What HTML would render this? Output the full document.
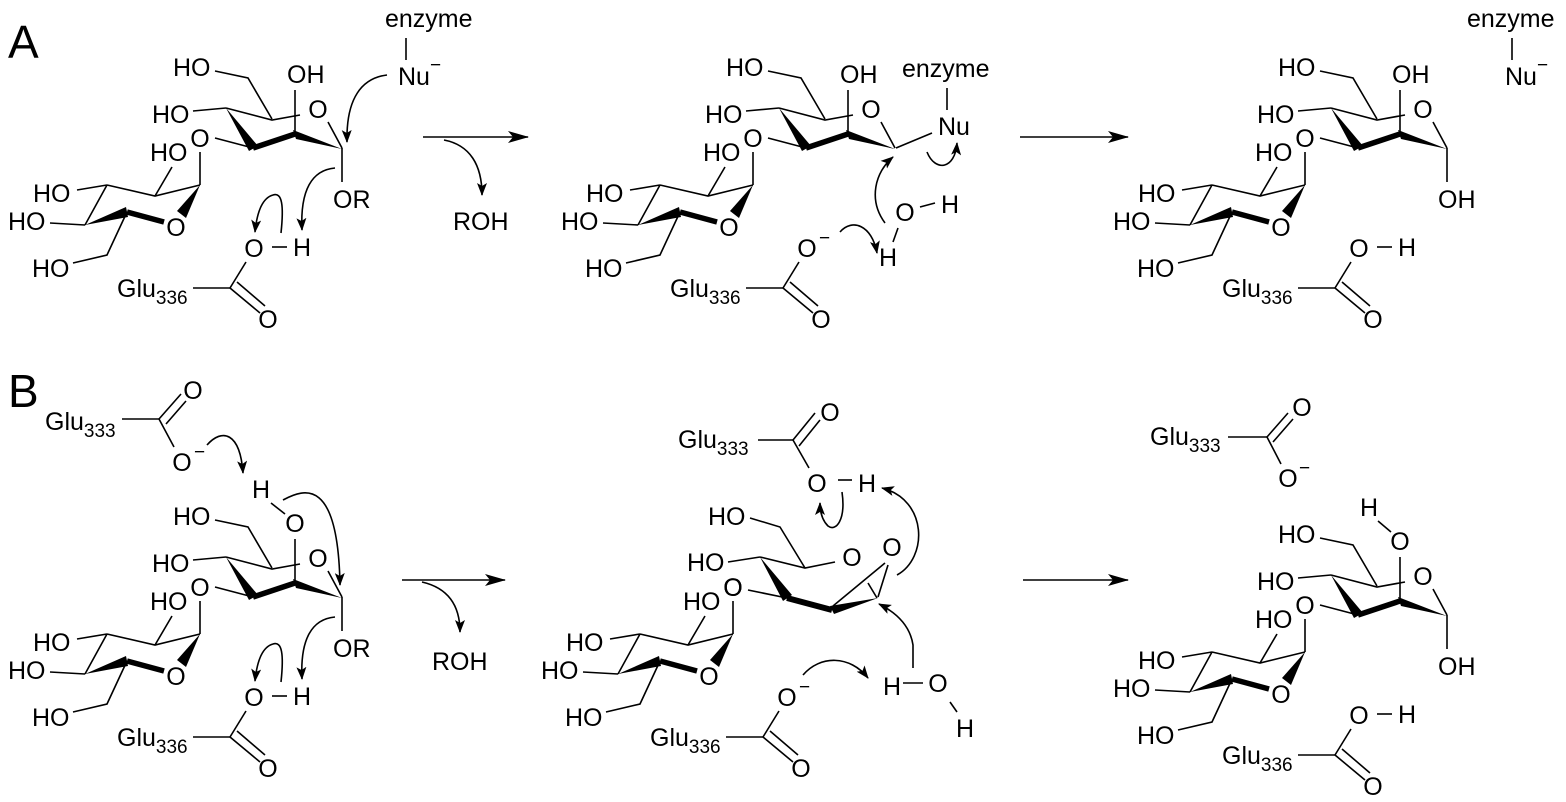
<!DOCTYPE html>
<html><head><meta charset="utf-8"><style>
html,body{margin:0;padding:0;background:#fff;}
svg{display:block;}
text{font-family:"Liberation Sans",Arial,sans-serif;font-size:25px;fill:#000;}
.m{text-anchor:middle;}
.s{font-size:19px;}
</style></head><body>
<svg width="1566" height="802" viewBox="0 0 1566 802" xmlns="http://www.w3.org/2000/svg">
<defs>
<marker id="ah" markerUnits="userSpaceOnUse" markerWidth="14" markerHeight="10" refX="12" refY="5" orient="auto">
<path d="M0,0 L13,5 L0,10 L3,5 Z" fill="#000"/></marker>
<marker id="bh" markerUnits="userSpaceOnUse" markerWidth="22" markerHeight="12" refX="20" refY="6" orient="auto">
<path d="M0,0 L21,6 L0,12 L5,6 Z" fill="#000"/></marker>
<g id="upper" stroke="#000" stroke-width="1.6" fill="none">
<path d="M215,71 L248,78 L272,119"/>
<path d="M193,111 L226,108"/>
<path d="M226,108 L272,120 L300,115"/>
<path d="M328,122 L342,148"/>
<path d="M295,90 L295,134"/>
<path d="M215,138 L253,148"/>
<polygon points="226,108 249,151 258,146" fill="#000" stroke="none"/>
<path d="M253,148 L295,134" stroke-width="5.5"/>
<polygon points="293,130 296,139 342,149" fill="#000" stroke="none"/>
</g>
<g id="lower" stroke="#000" stroke-width="1.6" fill="none">
<path d="M200,152 L200,185"/>
<path d="M200,185 L155,196 L107,185"/>
<path d="M155,196 L172,167"/>
<path d="M77,190 L107,185"/>
<path d="M107,185 L85,225"/>
<path d="M50,223 L85,225"/>
<path d="M127,212 L107,255 L73,263"/>
<polygon points="85,225 126,207 128,217" fill="#000" stroke="none"/>
<path d="M127,212 L164,222" stroke-width="5.5"/>
<polygon points="177,211 186,218 200,185" fill="#000" stroke="none"/>
</g>
<g id="carb" stroke="#000" stroke-width="1.6" fill="none">
<path d="M193,288 L230,288"/>
<path d="M230,288 L246,262"/>
<path d="M230,288 L260,313"/>
<path d="M237,282 L265,306"/>
</g>
</defs>

<text x="8" y="58" style="font-size:46px">A</text>
<text x="8" y="407" style="font-size:46px">B</text>

<!-- ===== A1 ===== -->
<use href="#upper"/><use href="#lower"/><use href="#carb"/>
<g>
<text x="150" y="161">HO</text><text x="33" y="202">HO</text><text x="8" y="230">HO</text>
<text x="176" y="236" class="m">O</text><text x="32" y="277">HO</text><text x="200" y="147" class="m">O</text>
<text x="173" y="76">HO</text><text x="152" y="123">HO</text><text x="318" y="118" class="m">O</text>
<text x="287" y="83">OH</text>
<text x="117" y="297">Glu<tspan class="s" dy="7">336</tspan></text>
<text x="254" y="257" class="m">O</text><text x="268" y="328" class="m">O</text>
<text x="293" y="256">H</text>
<text x="333" y="208">OR</text>
</g>
<g stroke="#000" stroke-width="1.6" fill="none">
<path d="M272,247 L287,247"/>
<path d="M342,148 L342,182"/>
<path d="M406,38 L406,60"/>
<path d="M387,75 C362,78 346,98 347,142" marker-end="url(#ah)"/>
<path d="M335,168 C312,170 300,190 302,230" marker-end="url(#ah)"/>
<path d="M281,233 C284,205 282,192 273,195 C262,198 257,212 255,232" marker-end="url(#ah)"/>
<path d="M423,137 L528,137" marker-end="url(#bh)"/>
<path d="M444,140 C470,145 482,165 482,195" marker-end="url(#ah)"/>
</g>
<text x="385" y="27">enzyme</text>
<text x="398" y="85">Nu<tspan dy="-14" class="s">−</tspan></text>
<text x="453" y="230">ROH</text>

<!-- ===== A2 ===== -->
<g transform="translate(553,0)">
<use href="#upper"/><use href="#lower"/><use href="#carb"/>
<text x="150" y="161">HO</text><text x="33" y="202">HO</text><text x="8" y="230">HO</text>
<text x="176" y="236" class="m">O</text><text x="32" y="277">HO</text><text x="200" y="147" class="m">O</text>
<text x="173" y="76">HO</text><text x="152" y="123">HO</text><text x="318" y="118" class="m">O</text>
<text x="287" y="83">OH</text>
<text x="117" y="297">Glu<tspan class="s" dy="7">336</tspan></text>
<text x="254" y="257" class="m">O</text><text x="268" y="328" class="m">O</text>
<text x="266" y="244" class="s">−</text>
</g>
<g stroke="#000" stroke-width="1.6" fill="none">
<path d="M896,148 L932,133"/>
<path d="M947,88 L947,110"/>
<path d="M920,207 L935,203"/>
<path d="M898,228 L893,242"/>
<path d="M927,152 C935,172 955,170 957,143" marker-end="url(#ah)"/>
<path d="M885,223 C868,200 875,172 893,157" marker-end="url(#ah)"/>
<path d="M840,232 C852,218 872,225 877,253" marker-end="url(#ah)"/>
<path d="M1020,137 L1128,137" marker-end="url(#bh)"/>
</g>
<text x="902" y="77">enzyme</text>
<text x="938" y="135">Nu</text>
<text x="905" y="221" class="m">O</text>
<text x="941" y="213">H</text>
<text x="888" y="266" class="m">H</text>

<!-- ===== A3 ===== -->
<g transform="translate(1105,0)">
<use href="#upper"/><use href="#lower"/><use href="#carb"/>
<text x="150" y="161">HO</text><text x="33" y="202">HO</text><text x="8" y="230">HO</text>
<text x="176" y="236" class="m">O</text><text x="32" y="277">HO</text><text x="200" y="147" class="m">O</text>
<text x="173" y="76">HO</text><text x="152" y="123">HO</text><text x="318" y="118" class="m">O</text>
<text x="287" y="83">OH</text>
<text x="117" y="297">Glu<tspan class="s" dy="7">336</tspan></text>
<text x="254" y="257" class="m">O</text><text x="268" y="328" class="m">O</text>
<text x="293" y="256">H</text>
<text x="333" y="208">OH</text>
<g stroke="#000" stroke-width="1.6" fill="none">
<path d="M272,247 L287,247"/><path d="M342,148 L342,182"/>
</g>
</g>
<path d="M1512,38 L1512,60" stroke="#000" stroke-width="1.6"/>
<text x="1467" y="27">enzyme</text>
<text x="1505" y="85">Nu<tspan dy="-14" class="s">−</tspan></text>

<!-- ===== B1 ===== -->
<g transform="translate(0,449)">
<use href="#upper"/><use href="#lower"/><use href="#carb"/>
<text x="150" y="161">HO</text><text x="33" y="202">HO</text><text x="8" y="230">HO</text>
<text x="176" y="236" class="m">O</text><text x="32" y="277">HO</text><text x="200" y="147" class="m">O</text>
<text x="173" y="76">HO</text><text x="152" y="123">HO</text><text x="318" y="118" class="m">O</text>
<text x="295" y="83" class="m">O</text>
<text x="252" y="49">H</text>
<text x="117" y="297">Glu<tspan class="s" dy="7">336</tspan></text>
<text x="254" y="257" class="m">O</text><text x="268" y="328" class="m">O</text>
<text x="293" y="256">H</text>
<text x="333" y="208">OR</text>
<g stroke="#000" stroke-width="1.6" fill="none">
<path d="M272,247 L287,247"/><path d="M342,148 L342,182"/>
<path d="M271,54 L285,65"/>
<path d="M335,168 C312,170 300,190 302,230" marker-end="url(#ah)"/>
<path d="M281,233 C284,205 282,192 273,195 C262,198 257,212 255,232" marker-end="url(#ah)"/>
</g>
</g>
<text x="45" y="430">Glu<tspan class="s" dy="7">333</tspan></text>
<text x="193" y="399" class="m">O</text>
<text x="182" y="471" class="m">O</text><text x="194" y="458" class="s">−</text>
<g stroke="#000" stroke-width="1.6" fill="none">
<path d="M122,419 L159,419"/>
<path d="M159,419 L181,394"/>
<path d="M166,424 L186,401"/>
<path d="M159,419 L174,447"/>
<path d="M207,445 C222,428 240,432 243,473" marker-end="url(#ah)"/>
<path d="M283,500 C305,488 338,478 340,585" marker-end="url(#ah)"/>
<path d="M402,580 L505,580" marker-end="url(#bh)"/>
<path d="M422,582 C448,588 460,605 460,632" marker-end="url(#ah)"/>
</g>
<text x="432" y="670">ROH</text>

<!-- ===== B2 ===== -->
<g transform="translate(533,449)">
<use href="#lower"/><use href="#carb"/>
<text x="150" y="161">HO</text><text x="33" y="202">HO</text><text x="8" y="230">HO</text>
<text x="176" y="236" class="m">O</text><text x="32" y="277">HO</text><text x="200" y="147" class="m">O</text>
<text x="117" y="297">Glu<tspan class="s" dy="7">336</tspan></text>
<text x="254" y="257" class="m">O</text><text x="268" y="328" class="m">O</text>
<text x="266" y="244" class="s">−</text>
</g>
<g stroke="#000" stroke-width="1.6" fill="none">
<path d="M750,518 L780,527 L805,568"/>
<path d="M728,562 L760,557"/>
<path d="M760,557 L805,568 L835,562"/>
<path d="M748,590 L787,598"/>
<polygon points="760,557 783,601 792,595" fill="#000" stroke="none"/>
<path d="M787,598 L832,610" stroke-width="6"/>
<polygon points="830,606 834,614 878,598" fill="#000" stroke="none"/>
<path d="M833,606 L885,563"/>
<path d="M888,565 L878,597"/>
<path d="M868,583 L877,598"/>
<path d="M758,440 L793,440"/>
<path d="M793,440 L815,413"/>
<path d="M799,446 L820,420"/>
<path d="M793,440 L809,468"/>
<path d="M838,480 L852,480"/>
<path d="M903,683 L923,683"/>
<path d="M950,702 L957,712"/>
<path d="M897,575 C928,558 928,500 882,488" marker-end="url(#ah)"/>
<path d="M842,492 C846,520 836,532 828,526 C822,520 820,512 820,503" marker-end="url(#ah)"/>
<path d="M913,668 L913,645 C910,625 895,612 879,604" marker-end="url(#ah)"/>
<path d="M803,675 C820,655 850,655 868,678" marker-end="url(#ah)"/>
<path d="M1023,580 L1128,580" marker-end="url(#bh)"/>
</g>
<text x="708" y="525">HO</text>
<text x="687" y="571">HO</text>
<text x="852" y="566" class="m">O</text>
<text x="892" y="556" class="m">O</text>
<text x="733" y="596" class="m">O</text>
<text x="678" y="448">Glu<tspan class="s" dy="7">333</tspan></text>
<text x="830" y="421" class="m">O</text>
<text x="817" y="492" class="m">O</text>
<text x="858" y="492">H</text>
<text x="883" y="695">H</text>
<text x="938" y="692" class="m">O</text>
<text x="965" y="737" class="m">H</text>

<!-- ===== B3 ===== -->
<g transform="translate(1105,467)">
<use href="#upper"/><use href="#lower"/><use href="#carb"/>
<text x="150" y="161">HO</text><text x="33" y="202">HO</text><text x="8" y="230">HO</text>
<text x="176" y="236" class="m">O</text><text x="32" y="277">HO</text><text x="200" y="147" class="m">O</text>
<text x="173" y="76">HO</text><text x="152" y="123">HO</text><text x="318" y="118" class="m">O</text>
<text x="295" y="83" class="m">O</text>
<text x="255" y="49">H</text>
<text x="117" y="297">Glu<tspan class="s" dy="7">336</tspan></text>
<text x="254" y="257" class="m">O</text><text x="268" y="328" class="m">O</text>
<text x="293" y="256">H</text>
<text x="333" y="208">OH</text>
<g stroke="#000" stroke-width="1.6" fill="none">
<path d="M272,247 L287,247"/><path d="M342,148 L342,182"/>
<path d="M273,54 L286,65"/>
</g>
</g>
<text x="1150" y="445">Glu<tspan class="s" dy="7">333</tspan></text>
<text x="1302" y="416" class="m">O</text>
<text x="1288" y="487" class="m">O</text><text x="1299" y="474" class="s">−</text>
<g stroke="#000" stroke-width="1.6" fill="none">
<path d="M1228,437 L1267,437"/>
<path d="M1267,437 L1288,413"/>
<path d="M1273,442 L1293,419"/>
<path d="M1267,437 L1281,464"/>
</g>
</svg>
</body></html>
